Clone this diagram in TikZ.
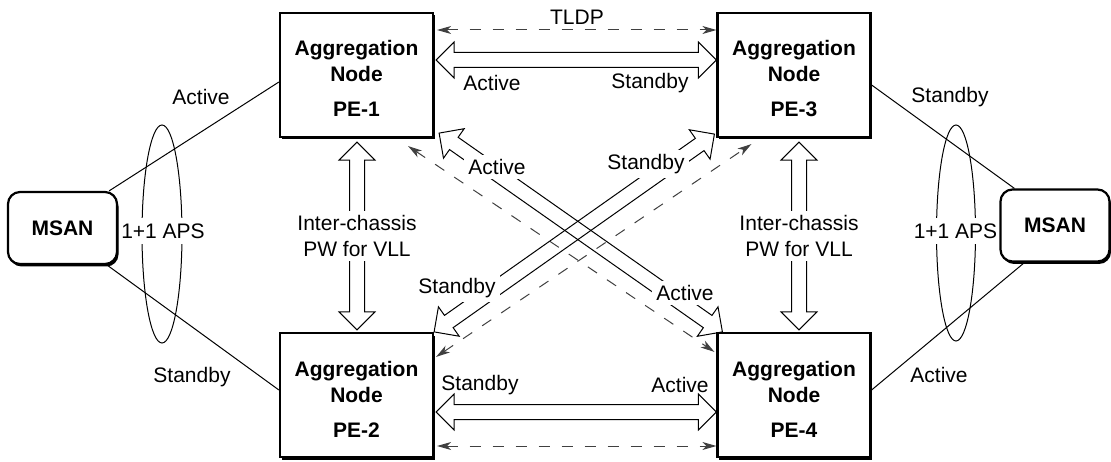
\documentclass[tikz,border=0pt]{standalone}
\usepackage{fontspec}
\setmainfont{Liberation Sans}
\usetikzlibrary{calc,shadows,arrows.meta}
\newcommand{\hollowarrow}[2]{%
  \coordinate (hA) at ($(#1)!18pt!(#2)$);
  \coordinate (hB) at ($(#2)!18pt!(#1)$);
  \draw[hollow] (#1) -- ($(hA)!18pt!90:(#2)$) -- ($(hA)!7.5pt!90:(#2)$)
    -- ($(hB)!7.5pt!-90:(#1)$) -- ($(hB)!18pt!-90:(#1)$) -- (#2)
    -- ($(hB)!18pt!90:(#1)$) -- ($(hB)!7.5pt!90:(#1)$)
    -- ($(hA)!7.5pt!-90:(#2)$) -- ($(hA)!18pt!-90:(#2)$) -- cycle;}
\begin{document}
\begin{tikzpicture}[x=1pt,y=-1pt,
  every node/.style={font=\fontsize{21}{26}\selectfont},
  agg/.style={draw,line width=2.2pt,fill=white,minimum width=153pt,minimum height=124pt,
    inner sep=0pt,align=center,font=\fontsize{21}{26}\selectfont\bfseries,
    drop shadow={shadow xshift=1.5pt,shadow yshift=-2.5pt,fill=black,opacity=1}},
  msan/.style={draw,line width=2.2pt,fill=white,rounded corners=12pt,minimum width=109pt,
    minimum height=72pt,inner sep=0pt,font=\fontsize{21}{26}\selectfont\bfseries,
    drop shadow={shadow xshift=1.5pt,shadow yshift=-2.5pt,fill=black,opacity=1}},
  lbl/.style={fill=white,inner sep=4pt},
  plain/.style={inner sep=0pt},
  thinline/.style={line width=1pt},
  hollow/.style={line width=1pt,line join=miter},
  dasharrow/.style={line width=1pt,draw=black!75,dash pattern=on 11pt off 12pt,
    arrows={Stealth[length=14pt,width=8pt,inset=4pt]-Stealth[length=14pt,width=8pt,inset=4pt]}}
]
\useasboundingbox (0,0) rectangle (1111,462);

% nodes
\node[agg] (pe1) at (356.5,75) {\rule{0pt}{23pt}Aggregation\\Node\\[9pt]PE-1};
\node[agg] (pe3) at (794,75) {\rule{0pt}{23pt}Aggregation\\Node\\[9pt]PE-3};
\node[agg] (pe2) at (356.5,395) {\rule{0pt}{23pt}Aggregation\\Node\\[9pt]PE-2};
\node[agg] (pe4) at (794,395) {\rule{0pt}{23pt}Aggregation\\Node\\[9pt]PE-4};
\node[msan] (msanL) at (62.5,228) {MSAN};
\node[msan] (msanR) at (1055,225.5) {MSAN};

% access lines
\draw[thinline] ($(msanL.north east)+(-9,0)$) -- ($(pe1.west)+(0,7)$);
\draw[thinline] ($(msanL.south east)+(-11,0)$) -- ($(pe2.west)+(0,-5)$);
\draw[thinline] ($(pe3.east)+(0,10)$) -- ($(msanR.north west)+(15,0)$);
\draw[thinline] ($(pe4.east)+(0,-5)$) -- ($(msanR.south west)+(25,0)$);

% APS ellipses
\draw[thinline] (162,234) ellipse [x radius=20, y radius=109];
\draw[thinline] (956,233) ellipse [x radius=19.5, y radius=108];
\node[fill=white,inner xsep=1pt,inner ysep=6pt] (apsL) at (163,231) {1+1 APS};
\node[fill=white,inner xsep=1pt,inner ysep=6pt] (apsR) at (955.5,231) {1+1 APS};

% access labels
\node[plain] (acL) at (201,97) {Active};
\node[plain] (sbL) at (192,377) {Standby};
\node[plain] (sbR) at (950,97) {Standby};
\node[plain] (acR) at (939,375) {Active};

% dashed arrows
\draw[dasharrow] ($(pe1.east)+(3,-45)$) -- ($(pe3.west)+(0,-45)$);
\draw[dasharrow] ($(pe2.east)+(3,51)$) -- ($(pe4.west)+(0,51)$);
\draw[dasharrow] ($(pe1.south east)+(-26,8)$) -- ($(pe4.north west)+(-2,20)$);
\draw[dasharrow] ($(pe2.north east)+(2,25)$) -- ($(pe3.south west)+(35,6)$);

% hollow double arrows
\coordinate (ta) at ($(pe1.east)+(2,-15)$);
\coordinate (tb) at ($(pe3.west)+(0,-15)$);
\coordinate (ba) at ($(pe2.east)+(2,17)$);
\coordinate (bb) at ($(pe4.west)+(0,17)$);
\coordinate (la) at ($(pe1.south)+(0.5,4)$);
\coordinate (lb) at ($(pe2.north)+(0.5,-2)$);
\coordinate (ra) at ($(pe3.south)+(5,4)$);
\coordinate (rb) at ($(pe4.north)+(5,-2)$);
\coordinate (d1a) at ($(pe1.south east)+(5,-5)$);
\coordinate (d1b) at ($(pe4.north west)+(6,0)$);
\coordinate (d2a) at ($(pe2.north east)+(0,0)$);
\coordinate (d2b) at ($(pe3.south west)+(-2,-4)$);
\hollowarrow{ta}{tb}
\hollowarrow{ba}{bb}
\hollowarrow{la}{lb}
\hollowarrow{ra}{rb}
\hollowarrow{d1a}{d1b}
\hollowarrow{d2a}{d2b}

% labels
\node[plain] (tldp) at (577,17) {TLDP};
\node[plain] (tac) at (492,83) {Active};
\node[plain] (tsb) at (650,83) {Standby};
\node[plain] (bsb) at (480,385) {Standby};
\node[plain] (bac) at (680,385) {Active};
\node[lbl,align=center] (icL) at (357,236) {Inter-chassis\\PW for VLL};
\node[lbl,align=center] (icR) at (799,236) {Inter-chassis\\PW for VLL};
\node[lbl] (d1t) at (497,167) {Active};
\node[lbl] (d2t) at (646,164) {Standby};
\node[lbl] (d2u) at (457,288) {Standby};
\node[lbl] (d1u) at (685,293) {Active};
\end{tikzpicture}
\end{document}
